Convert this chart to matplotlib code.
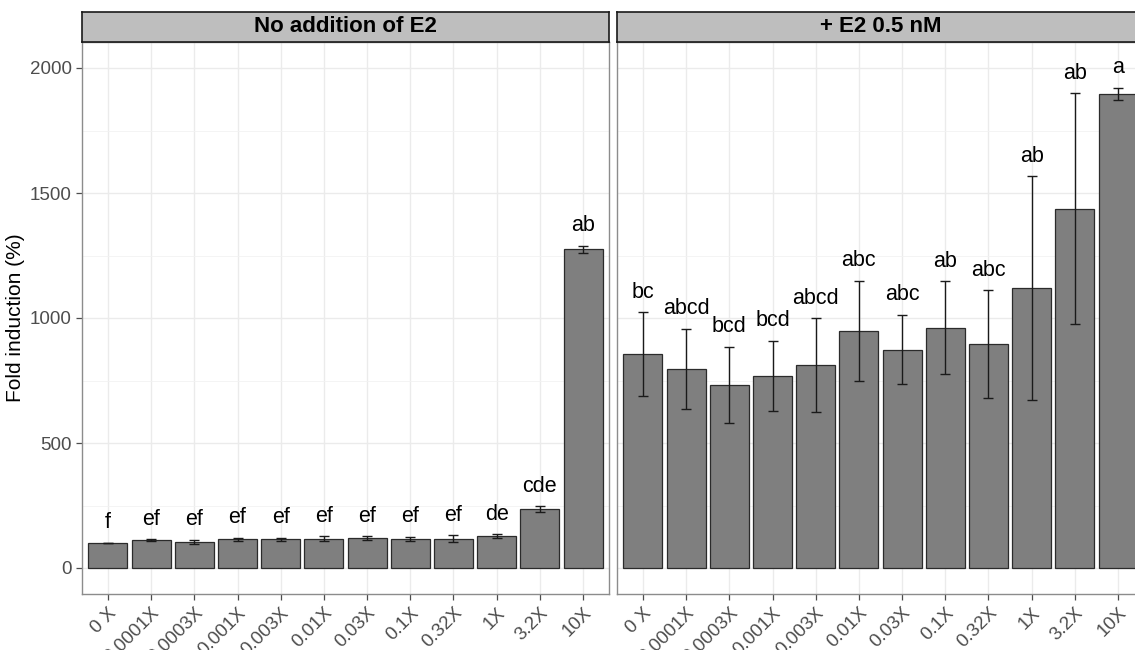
import numpy as np
import matplotlib
matplotlib.use("Agg")
from matplotlib import pyplot as plt

plt.rcParams['font.family'] = ['Liberation Sans', 'DejaVu Sans']

doses = ['0 X', '0.0001X', '0.0003X', '0.001X', '0.003X', '0.01X',
         '0.03X', '0.1X', '0.32X', '1X', '3.2X', '10X']

# no E2
mean_noe2 = [100, 112, 106, 115, 116, 117, 119, 116, 117, 128, 237, 1275]
se_noe2 = [0, 3, 8, 7, 6, 10, 8, 9, 14, 7, 11, 14]
lab_noe2 = ['f', 'ef', 'ef', 'ef', 'ef', 'ef', 'ef', 'ef', 'ef', 'de', 'cde', 'ab']

# + E2 0.5 nM
mean_e2 = [855, 797, 733, 768, 812, 949, 874, 961, 895, 1120, 1437, 1897]
se_e2 = [168, 160, 152, 140, 188, 200, 138, 186, 216, 447, 462, 24]
lab_e2 = ['bc', 'abcd', 'bcd', 'bcd', 'abcd', 'abc', 'abc', 'ab', 'abc', 'ab', 'ab', 'a']

panels = [('No addition of E2', mean_noe2, se_noe2, lab_noe2),
          ('+ E2 0.5 nM', mean_e2, se_e2, lab_e2)]

W, H = 1135, 650
fig = plt.figure(figsize=(W / 100, H / 100), dpi=100)

def px(x0, y0, x1, y1):
    return [x0 / W, 1 - y1 / H, (x1 - x0) / W, (y1 - y0) / H]

lefts = [82, 617]
pw = 527
ptop, pbot = 42, 594
stop = 12

for k, (title, mean, se, labs) in enumerate(panels):
    x0 = lefts[k]
    ax = fig.add_axes(px(x0, ptop, x0 + pw, pbot))
    pos = np.arange(len(doses))
    mean = np.array(mean, dtype=float)
    se = np.array(se, dtype=float)

    ax.bar(pos, mean, width=0.9, color='#7F7F7F', edgecolor='#2b2b2b',
           linewidth=0.9, zorder=3)
    ax.errorbar(pos, mean, yerr=se, fmt='none', ecolor='#1a1a1a',
                elinewidth=1.0, capsize=3.5, capthick=1.0, zorder=4)
    for i in range(len(doses)):
        ax.text(pos[i], mean[i] + se[i] + 58, labs[i], ha='center',
                va='baseline', fontsize=15.5, color='black', zorder=5)

    ax.set_xlim(-0.6, len(doses) - 0.4)
    ax.set_ylim(-104, 2104)
    ax.set_yticks([0, 500, 1000, 1500, 2000])
    ax.set_yticks([250, 750, 1250, 1750], minor=True)
    ax.set_xticks(pos)
    ax.set_xticklabels(doses, rotation=45, ha='right', rotation_mode='anchor')
    ax.grid(True, which='major', color='#EBEBEB', linewidth=1.0, zorder=0)
    ax.grid(True, which='minor', axis='y', color='#F2F2F2', linewidth=0.6, zorder=0)
    ax.set_axisbelow(True)
    for s in ax.spines.values():
        s.set_color('#8C8C8C')
        s.set_linewidth(1.0)
    ax.tick_params(axis='both', which='major', length=4, color='#4D4D4D',
                   labelsize=13.5, labelcolor='#4D4D4D', width=0.9)
    ax.tick_params(axis='y', which='minor', length=0)
    if k == 0:
        ax.set_ylabel('Fold induction (%)', fontsize=15, color='black', labelpad=3)
    else:
        ax.tick_params(axis='y', which='both', left=False, labelleft=False)

    sax = fig.add_axes(px(x0, stop, x0 + pw, ptop))
    sax.set_facecolor('#BEBEBE')
    sax.set_xticks([])
    sax.set_yticks([])
    for s in sax.spines.values():
        s.set_color('#1a1a1a')
        s.set_linewidth(1.2)
    sax.text(0.5, 0.5, title, ha='center', va='center', fontsize=16,
             fontweight='bold', color='black', transform=sax.transAxes)

fig.savefig('out.png', dpi=100)
